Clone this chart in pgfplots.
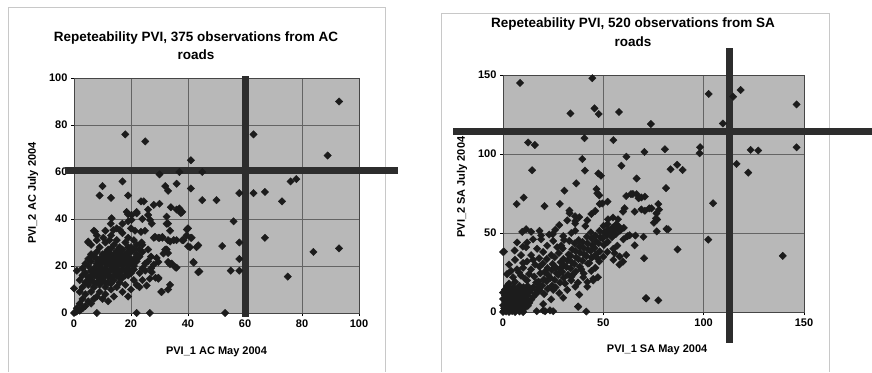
\documentclass[border=0pt]{standalone}
\usepackage{fontspec}
\setmainfont{Liberation Sans}
\usepackage{pgfplots}
\pgfplotsset{compat=1.18}
\definecolor{plotbg}{RGB}{184,184,184}
\definecolor{gridc}{RGB}{100,100,100}
\definecolor{markc}{RGB}{28,28,28}
\definecolor{barc}{RGB}{45,45,45}
\definecolor{boxc}{RGB}{200,200,200}
\pgfplotsset{
 pvi/.style={
  scale only axis,
  anchor=south west,
  axis background/.style={fill=plotbg},
  grid=major,
  major grid style={gridc, line width=0.5pt},
  axis line style={draw=gridc!70!black, line width=0.6pt},
  tick align=outside, xtick pos=bottom, ytick pos=left,
  major tick length=3pt,
  tick style={black, line width=0.6pt},
  tick label style={font=\bfseries\fontsize{11}{13}\selectfont},
  label style={font=\bfseries\fontsize{11}{13}\selectfont},
  /pgf/number format/assume math mode=true,
  clip=false,
 },
 dots/.style={only marks, mark=square*, mark size=2.6pt, mark options={rotate=45, draw=markc, fill=markc}},
 bar/.style={no marks, barc, line width=7pt},
}
\begin{document}
\begin{tikzpicture}
\path[use as bounding box] (0pt,0pt) rectangle (872pt,372pt);
\draw[boxc, line width=0.8pt] (8pt,0pt) -- (8pt,365pt) -- (385pt,365pt) -- (385pt,0pt);
\draw[boxc, line width=0.8pt] (441pt,0pt) -- (441pt,359pt) -- (829pt,359pt) -- (829pt,0pt);
\node[font=\bfseries\fontsize{13.5}{18}\selectfont, align=center] at (196pt,326pt) {Repeteability PVI, 375 observations from AC\\roads};
\node[font=\bfseries\fontsize{13.5}{19}\selectfont, align=center] at (633pt,340pt) {Repeteability PVI, 520 observations from SA\\roads};

\begin{axis}[pvi, at={(74pt,59pt)}, width=285pt, height=235pt,
  xmin=0, xmax=100, ymin=0, ymax=100,
  xtick={0,20,...,100}, ytick={0,20,...,100},
  xlabel={PVI\_1 AC May 2004}, ylabel={PVI\_2 AC July 2004},
  xlabel style={at={(axis description cs:0.5,-0.166)}, anchor=center},
  ylabel style={at={(axis description cs:-0.144,0.51)}, anchor=center}]
\addplot[dots] coordinates {
(93,90) (18,76) (25,73) (63,76) (41,65) (89,67) (78,57) (76,56) (45,60) (37,60) (30,59)
(10,54) (17,56) (32,54) (33,52) (36,55) (41,53) (9,50) (13,49) (19,50) (58,51) (63,51)
(67,51.5) (73,47.5) (50,48) (45,48) (23.5,47.5) (24.5,47.5) (28,46) (30,46.5) (34,45)
(37,44.5) (37.5,42.5) (33,38) (33.7,35) (56,39) (58,30) (58,23) (58,18) (55,18) (52,28.5)
(67,32) (75,15.5) (84,26) (93,27.5) (53,0) (22,0) (26.6,0) (8,0) (44,17.7) (42,21.4)
(43,28) (40,28.4) (41,32) (39.6,35.5) (38,31) (38,43) (36,44) (33,31) (35,31) (33,25.5)
(32,27) (33.7,20.8) (35.6,19.4) (33.7,12) (30.6,9) (29.6,15) (28.6,15) (28,20.6) (29,23.4)
(30,32) (31,32) (28,32) (18.5,43) (20.2,41.7) (22,42.4) (20.2,39.6) (19,39) (26,41.7)
(26.7,39.6) (27.3,38) (13.2,40.3) (12.9,38) (32.5,41) (32.5,38) (40,36) (39.5,33) (24.9,35)
(23.5,34.5) (21.4,35) (7.4,34.6) (13.8,35.3) (16.1,35.3) (41.3,32) (40.7,28) (43.6,28.8)
(28.4,32.4) (29.6,32) (31,32.4) (33.7,30.4) (36,31) (38.4,31) (10.3,32) (12.5,31) (5,30.4)
(23.7,30) (23,27) (32.5,27) (31.4,25.3) (29.6,21.7) (33,21.7) (34.3,21) (41.9,21.7)
(43.6,17.4) (36,19.3) (27.3,17.4) (29.6,14.6) (26.6,14.6) (25.5,11.7) (30.8,9) (33,10)
(0,10.5) (0.9,0.6) (0,0)
(9,28) (12,27) (14,29) (16,28) (18,30) (20,28) (22,29)
(6,25) (8,26) (10,25) (12,26) (14,25) (16,26) (18,25) (20,26) (22,25) (24,26)
(5,23) (7,24) (9,23) (11,24) (13,23) (15,24) (17,23) (19,24) (21,23) (23,24)
(4,21) (6,22) (8,21) (10,22) (12,21) (14,22) (16,21) (18,22) (20,21) (22,22) (25,21)
(3,19) (5,20) (7,19) (9,20) (11,19) (13,20) (15,19) (17,20) (19,19) (21,20) (24,19)
(4,17) (6,18) (8,17) (10,18) (12,17) (14,18) (16,17) (18,18) (20,17) (23,17)
(5,15) (7,16) (9,15) (11,16) (13,15) (15,16) (17,15) (19,16) (21,14)
(4,13) (6,14) (8,13) (10,14) (12,13) (14,14) (16,13) (18,12)
(3,11) (5,12) (7,11) (9,12) (11,11) (13,10)
(2,9) (4,8) (6,9) (3,6) (5,5) (7,6) (2,4) (1,2) (0.5,0.5) (1,1) (9,9) (8,7) (11,8) (4,3)
(6,4) (2,1) (3,2)
(2,14) (3,16) (1,18) (6,29) (8,31) (11,30) (13,33) (15,31) (17,34) (19,32) (21,31) (24,29)
(26,27) (27,24) (26,22) (25,18) (27,19) (22,12) (20,10) (17,9) (15,11) (14,7) (12,5) (10,6)
(19,7) (24,14) (23,11) (20,36) (17,38) (15,36) (19,42) (22,43) (24,40) (26,44) (11,35)
(8,33) (7,35) (5,30)
(13,27.5) (15,26.5) (17,27) (19,28) (21,27) (11,25.5) (13,24.5) (15,25) (17,24.5) (19,26)
(8,23) (10,23.5) (12,22.5) (14,23.5) (16,22.5) (18,23.5) (20,22.5) (22,23.5) (9,20.5)
(11,21) (13,21.5) (15,20.5) (17,21.5) (19,20.5) (21,21.5) (7,18) (9,18.5) (11,17.5)
(13,18.5) (15,17.5) (17,18.5) (19,17.5) (21,18.5) (6,16) (8,15.5) (10,16.5) (12,15.5)
(14,16) (16,15) (18,16) (5,13.5) (7,13) (9,13.5) (11,13) (13,12.5)
};
\addplot[bar] coordinates {(60,-1.7) (60,101)};
\addplot[bar] coordinates {(-3.2,60.5) (113.7,60.5)};
\end{axis}

\begin{axis}[pvi, at={(503pt,60pt)}, width=301pt, height=237pt,
  xmin=0, xmax=150, ymin=0, ymax=150,
  xtick={0,50,100,150}, ytick={0,50,100,150},
  xlabel={PVI\_1 SA May 2004}, ylabel={PVI\_2 SA July 2004},
  xlabel style={at={(axis description cs:0.512,-0.160)}, anchor=center},
  ylabel style={at={(axis description cs:-0.136,0.527)}, anchor=center}]
\addplot[dots] coordinates {
(8.5,145) (44.5,148) (102.5,138) (114.7,136.3) (118.4,140.5) (146.3,131.4) (33.6,125.7)
(45.6,128.9) (47.7,125.3) (57.8,126.6) (73.7,119) (109.6,119.3) (40.6,110) (12.5,107.3)
(15.9,105.7) (55,108.8) (98.2,104.3) (98,100.5) (80.7,103) (70.5,101.3) (61.5,98.3)
(59,92.6) (39.5,96.8) (40.8,89.5) (14.5,89.7) (47.5,87.7) (48.8,86.3) (66.6,84.5)
(36.5,81.4) (86.8,93.2) (83.5,90.3) (89.5,89.9) (123.4,102.6) (127.2,102.2) (146.3,104.2)
(116.4,93.7) (122.2,88.2) (81.2,78.4) (63.8,74.6) (66.6,74.6) (69,72.5) (70.7,73) (67.6,72)
(30.6,76.8) (46.6,77.8) (47,75.2) (48,73.8) (49.5,68.7) (52.1,69.8) (77.4,68.3) (77.8,64.8)
(76.5,62.4) (74,65.6) (72.9,65.6) (70.7,64.1) (69,64.9) (65.6,63.5) (60.6,65.7) (59.8,63.5)
(76.8,58.5) (76.2,59.3) (75.2,56.5) (76.6,51) (82.3,52.3) (81.5,52.6) (104.7,68.8)
(139.4,35.5) (102.3,45.8) (87,39.6) (70.3,34) (71.2,8.7) (77.4,7.4) (41.5,0.3) (37.5,3.4)
(16.8,0.5) (21,0.5) (25,0.5) (20.1,1) (23.4,1) (6.8,68.3) (10.3,72.4) (20.7,67) (28.3,68.4)
(33.1,64.2) (35.9,60.6) (33.2,62.5) (36,57.6) (41,54.4) (48.2,68.4) (52.3,58.7) (54.8,59.8)
(57.3,58.7) (0,38) (0.5,38.2) (5.8,38.9) (9.9,41.4) (11.5,41) (9.6,50.7) (11.5,52.4)
(14,50.8) (18.2,51.4) (24.8,49.3) (19,48.5) (30.4,45.6) (36,51.4) (55.6,37.2) (58.1,35.1)
(61.4,36.1) (59.8,31.9) (63.1,48.6) (66,48.4) (70,47.6) (65.6,42.2) (47.3,22) (45,21)
(37.4,18.6) (42,19) (71.4,8.6) (37.4,3.4) (61.4,73.4) (64.7,74.7)
(0,0) (1.5,0.3) (3,0) (4.5,0.6) (6,0) (8.2,0.4) (10,0) (0.5,0.8)
(0.5,2.4) (2,1.8) (3.6,2.6) (5.2,1.7) (7,2.5) (9.3,1.9) (11,2.7)
(0,4.3) (1.6,3.8) (3.1,4.6) (5,3.7) (6.7,4.4) (8.1,3.6) (10.2,4.5) (12.4,3.9)
(1,6.3) (2.4,5.8) (4.1,6.6) (6.2,5.6) (7.6,6.5) (9.1,5.8) (11.3,6.4) (13.1,5.7)
(0,8.2) (2.1,7.7) (3.7,8.5) (5.1,7.6) (7.2,8.6) (9,7.8) (11.2,8.3) (14.1,7.9)
(1,10.4) (3.2,9.7) (4.9,10.5) (7.1,9.8) (8.6,10.6) (10.3,9.6) (12.1,10.4) (15.2,9.8)
(0,12.3) (2.2,11.6) (4.1,12.5) (6.2,11.7) (8.1,12.6) (10.2,11.8) (13.1,12.4) (16.2,11.7)
(1,14.2) (3.1,13.7) (5.2,14.6) (7.1,13.8) (9.2,14.5) (11.1,13.6) (14.2,14.4) (17.1,13.5)
(2,16.4) (5.1,15.8) (8.2,16.6) (10.1,15.7) (12.3,16.5) (15.1,15.6) (18.2,16.3)
(16.5,18.6) (15.6,22.4) (16.3,11.2) (18.4,13.6) (17.7,19.3) (18.6,24.5) (18.2,28.7)
(20.5,11.4) (19.6,16.7) (20.3,20.6) (20.8,25.4) (19.8,30.6) (22.3,14.6) (21.7,19.4)
(22.6,23.3) (22.2,27.8) (21.8,33.5) (24.4,16.7) (23.6,21.5) (24.3,26.6) (24.7,30.4)
(26.2,15.6) (25.7,20.4) (26.6,24.6) (26.1,28.3) (25.7,34.6) (28.4,18.6) (27.6,23.5)
(28.3,27.4) (28.7,31.5) (27.8,37.3) (30.2,21.6) (29.6,25.4) (30.4,29.5) (30.1,33.6)
(29.7,40.2) (32.4,23.5) (31.6,28.4) (32.2,32.6) (32.7,36.4) (34.1,22.4) (33.6,27.6)
(34.4,31.3) (33.8,35.5) (34.5,39.6) (36.2,25.6) (35.6,30.4) (36.5,34.5) (36.1,38.6)
(35.7,43.4) (38.3,28.6) (37.6,33.4) (38.4,37.5) (38.1,41.4) (37.7,45.5) (40.2,24.4)
(39.6,32.5) (40.5,36.4) (40.1,40.6) (39.7,44.3) (42.3,30.6) (41.6,35.4) (42.4,39.5)
(42.1,43.4) (41.8,47.6) (44.2,34.4) (43.7,38.6) (44.5,42.3) (44.1,46.5) (43.8,50.4)
(46.3,36.5) (45.6,40.4) (46.4,44.6) (46.1,48.4) (48.2,38.4) (47.6,43.5) (48.5,47.3)
(48.1,51.4) (50.3,42.4) (49.6,46.6) (50.4,50.3) (50.1,54.5) (52.2,44.4) (51.7,48.6)
(52.4,52.4) (52.1,55.6) (54.3,47.4) (53.7,50.6) (54.5,53.4) (56.2,49.3) (55.6,52.5)
(56.4,55.4) (58.2,51.4) (57.6,54.3) (60.2,53.3)
(5,22) (8,25) (10,28) (3,30) (6,33) (12,32) (14,36) (9,36) (4,26) (11,21) (13,24) (16,30)
(18,34) (20,38) (22,42) (25,45) (12,44) (7,44) (15,46) (3,18) (2,24) (26,52) (28,55)
(32,58) (23,49) (30,48) (19,46) (34,50) (36,56) (38,60) (42,58) (44,62) (46,64) (33,45)
(29,42) (7,27) (10,31) (14,27) (12,20) (6,19) (9,23) (15,33) (17,40) (24,36) (27,41)
(20,5) (24,8) (28,12) (32,14) (36,16) (25,14) (30,9) (34,20) (40,22) (44,26) (46,28)
(48,32) (50,35) (52,38) (55,40) (57,42) (60,46) (62,48) (58,30) (55,33) (45,20) (42,16)
(38,11) (31,18) (35,24) (39,27) (43,31) (47,34)
};
\addplot[bar] coordinates {(113,-19.6) (113,167)};
\addplot[bar] coordinates {(-24.9,114) (184,114)};
\end{axis}
\end{tikzpicture}
\end{document}
